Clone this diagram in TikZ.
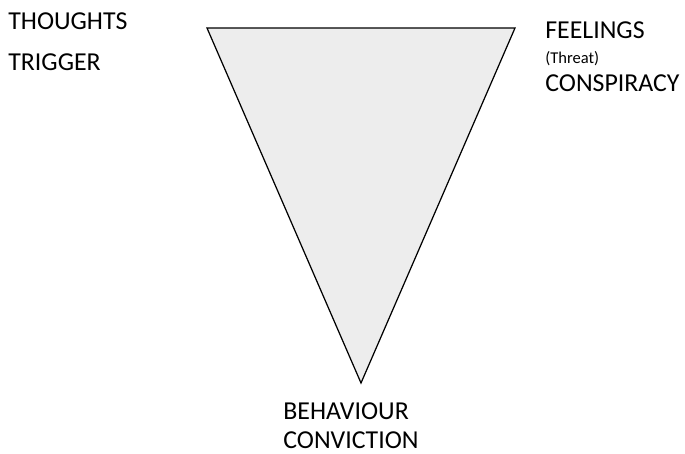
\documentclass[tikz,border=0pt]{standalone}
\usepackage{fontspec}
\setmainfont{Carlito}
\usepackage{tikz}
\usetikzlibrary{positioning}
\definecolor{trifill}{RGB}{237,237,237}

\begin{document}
\begin{tikzpicture}[x=0.02cm,y=-0.02cm,
  lbl/.style={anchor=base west,inner sep=0pt,font=\fontsize{14.7}{17}\selectfont},
  small/.style={anchor=base west,inner sep=0pt,font=\fontsize{9.4}{11}\selectfont},
  tri/.style={draw=black,fill=trifill,line width=0.7pt,line join=miter}]
  \useasboundingbox (0,0) rectangle (685,453);
  % the inverted triangle
  \coordinate (tl) at (207,28);
  \coordinate (tr) at (515,28);
  \coordinate (bt) at (361,383);
  \draw[tri](tl)--(tr)--(bt)--cycle;
  % labels
  \node[lbl](thoughts) at (8,30) {THOUGHTS};
  \node[lbl](trigger) at (8,70) {TRIGGER};
  \node[lbl](feelings) at (545,38) {FEELINGS};
  \node[small](threat) at (545,63) {(Threat)};
  \node[lbl](conspiracy) at (545,91) {CONSPIRACY};
  \node[lbl](behaviour) at (283,419) {BEHAVIOUR};
  \node[lbl](conviction) at (283,448) {CONVICTION};
\end{tikzpicture}
\end{document}
